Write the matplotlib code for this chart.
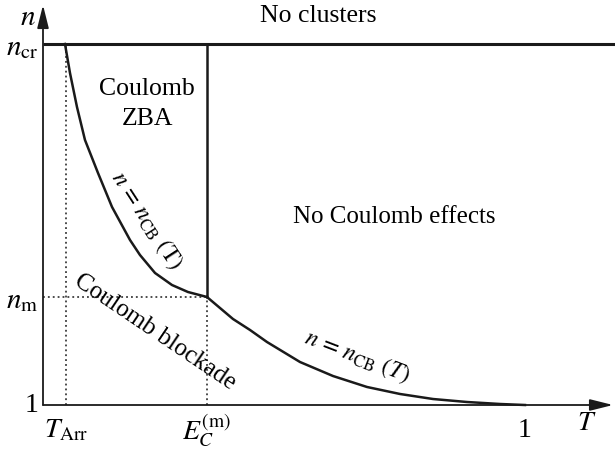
import matplotlib
matplotlib.use("Agg")
import matplotlib.pyplot as plt

plt.rcParams['font.family'] = ['Liberation Serif', 'DejaVu Serif']
plt.rcParams['mathtext.fontset'] = 'stix'

# ---- data (schematic phase diagram, normalized units) ----
# T axis: 0 at origin, 1 at the "1" tick; n axis: 0 at "1", 1 at n_cr
T_arr = 0.0477
E_c = 0.3402
n_m = 0.299
n_cr = 1.0

T_upper = [0.0456, 0.0560, 0.0705, 0.0871, 0.1141, 0.1432, 0.1805, 0.2012,
           0.2324, 0.2676, 0.3008, 0.3402]
n_upper = [1.000, 0.9197, 0.8255, 0.7341, 0.6427, 0.5485, 0.4571, 0.4155,
           0.3657, 0.3324, 0.3130, 0.2992]

T_lower = [0.3402, 0.3942, 0.4295, 0.4647, 0.5332, 0.6017, 0.6722, 0.7407,
           0.8091, 0.8797, 0.9481, 1.0]
n_lower = [0.2992, 0.2382, 0.2078, 0.1745, 0.1191, 0.0803, 0.0499, 0.0305,
           0.0166, 0.0083, 0.0028, 0.0]

x_ticks = [T_arr, E_c, 1.0]
x_ticklabels = [r'$T_{\rm Arr}$', r'$E_C^{(\rm m)}$', '1']
y_ticks = [0.0, n_m, n_cr]
y_ticklabels = ['1', r'$n_{\rm m}$', r'$n_{\rm cr}$']

# ---- figure ----
fig = plt.figure(figsize=(6.15, 4.49), dpi=100)
ax = fig.add_axes([0, 0, 1, 1])
ax.axis('off')
xmin, xmax = -43 / 482, (615 - 43) / 482
ymin, ymax = (405 - 449) / 361, 405 / 361
ax.set_xlim(xmin, xmax)
ax.set_ylim(ymin, ymax)

c = '#1a1a1a'
# axes with arrows
ax.annotate('', xy=(1.1826, 0), xytext=(0, 0),
            arrowprops=dict(arrowstyle='-|>,head_length=1.4,head_width=0.35',
                            lw=1.3, color=c, shrinkA=0, shrinkB=0))
ax.annotate('', xy=(0, 1.108), xytext=(0, 0),
            arrowprops=dict(arrowstyle='-|>,head_length=1.4,head_width=0.35',
                            lw=1.3, color=c, shrinkA=0, shrinkB=0))

# dotted guide lines
dot = (0, (1.2, 2.0))
ax.plot([T_arr, T_arr], [0, n_cr], ls=dot, lw=1.1, color=c)
ax.plot([E_c, E_c], [0, n_m], ls=dot, lw=1.1, color=c)
ax.plot([0, E_c], [n_m, n_m], ls=dot, lw=1.1, color=c)

# phase boundaries
ax.plot([0, xmax], [n_cr, n_cr], lw=2.2, color=c, solid_capstyle='butt')
ax.plot([E_c, E_c], [n_m, n_cr], lw=1.8, color=c)
ax.plot(T_upper, n_upper, lw=1.8, color=c, solid_joinstyle='round')
ax.plot(T_lower, n_lower, lw=1.8, color=c, solid_joinstyle='round')

# tick labels
fs = 20
for t, lab in zip(x_ticks, x_ticklabels):
    ax.text(t, -0.07, lab, ha='center', va='center', fontsize=fs)
ax.text(-0.0104, 0.0, y_ticklabels[0], ha='right', va='center', fontsize=fs)
ax.text(-0.0104, n_m - 0.012, y_ticklabels[1], ha='right', va='center', fontsize=21)
ax.text(-0.0104, n_cr - 0.012, y_ticklabels[2], ha='right', va='center', fontsize=21)
ax.text(1.1286, -0.05, r'$T$', ha='center', va='center', fontsize=fs)
ax.text(-0.031, 1.072, r'$n$', ha='center', va='center', fontsize=21)

# region labels
ax.text((318 - 43) / 482, (405 - 16) / 361, 'No clusters', ha='center', va='center', fontsize=18.5)
ax.text((147 - 43) / 482, (405 - 104) / 361, 'Coulomb\nZBA', ha='center', va='center',
        fontsize=18.5, linespacing=1.45)
ax.text((394 - 43) / 482, (405 - 217) / 361, 'No Coulomb effects', ha='center', va='center', fontsize=18)
ax.text((155 - 43) / 482, (405 - 332) / 361, 'Coulomb blockade', ha='center', va='center',
        fontsize=18, rotation=-34, rotation_mode='anchor')
ax.text((147 - 43) / 482, (405 - 220) / 361, r'$n\,=\,n_{\rm CB}\ (\rm T)$', ha='center', va='center',
        fontsize=17, rotation=-57, rotation_mode='anchor')
ax.text((357 - 43) / 482, (405 - 356) / 361, r'$n\,=\,n_{\rm CB}\ (T)$', ha='center', va='center',
        fontsize=17, rotation=-21, rotation_mode='anchor')

fig.savefig('out.png', dpi=100)
